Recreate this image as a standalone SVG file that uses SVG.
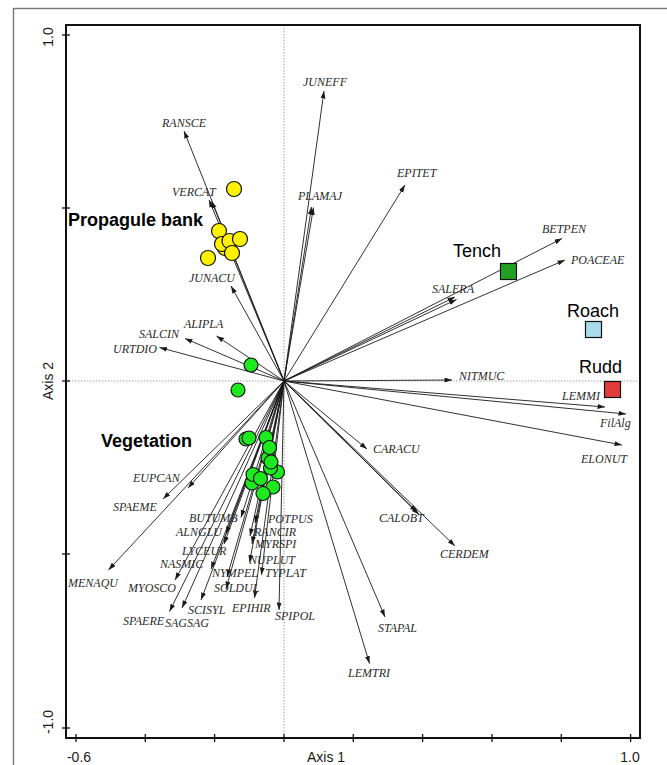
<svg xmlns="http://www.w3.org/2000/svg" width="667" height="765" viewBox="0 0 667 765">
<defs>
<marker id="ah" markerUnits="userSpaceOnUse" markerWidth="8" markerHeight="6" refX="7.5" refY="2.5" orient="auto">
<path d="M0,0 L7.5,2.5 L0,5 z" fill="#1a1a1a"/>
</marker>
<style>
.ar{stroke:#1a1a1a;stroke-width:0.9;fill:none;marker-end:url(#ah)}
.sp{font-family:"Liberation Serif","Times New Roman",serif;font-style:italic;font-size:12px;fill:#2a2a2a}
.ax{font-family:"Liberation Sans",Arial,sans-serif;font-size:14px;fill:#1a1a1a}
.grp{font-family:"Liberation Sans",Arial,sans-serif;font-weight:bold;font-size:18px;fill:#000}
.fish{font-family:"Liberation Sans",Arial,sans-serif;font-size:18px;fill:#000}
.yc{fill:#fff200;stroke:#111;stroke-width:1.2}
.gc{fill:#1ee81e;stroke:#111;stroke-width:1.2}
.tk{stroke:#111;stroke-width:1.3}
.dot{stroke:#888;stroke-width:0.8;stroke-dasharray:1.5,1.5}
</style>
</defs>
<rect width="667" height="765" fill="#fff"/>
<rect x="13.5" y="8.5" width="700" height="800" fill="none" stroke="#777" stroke-width="1.4"/>
<g id="axes">
<line class="dot" x1="284" y1="25" x2="284" y2="738"/>
<line class="dot" x1="66" y1="381" x2="640" y2="381"/>
<rect x="66" y="25" width="574" height="713" fill="none" stroke="#111" stroke-width="2"/>
<g class="tk">
<line x1="62" y1="35" x2="70" y2="35"/><line x1="62" y1="208" x2="70" y2="208"/><line x1="62" y1="381" x2="70" y2="381"/><line x1="62" y1="554" x2="70" y2="554"/><line x1="62" y1="728" x2="70" y2="728"/>
<line x1="76" y1="734" x2="76" y2="742"/><line x1="145.3" y1="734" x2="145.3" y2="742"/><line x1="214.6" y1="734" x2="214.6" y2="742"/><line x1="284" y1="734" x2="284" y2="742"/><line x1="353.3" y1="734" x2="353.3" y2="742"/><line x1="422.6" y1="734" x2="422.6" y2="742"/><line x1="492" y1="734" x2="492" y2="742"/><line x1="561.3" y1="734" x2="561.3" y2="742"/><line x1="630.6" y1="734" x2="630.6" y2="742"/>
</g>
<text class="ax" x="79" y="762" text-anchor="middle">-0.6</text>
<text class="ax" x="326" y="762" text-anchor="middle">Axis 1</text>
<text class="ax" x="630" y="762" text-anchor="middle">1.0</text>
<text class="ax" transform="translate(53,37) rotate(-90)" text-anchor="middle">1.0</text>
<text class="ax" transform="translate(53,381) rotate(-90)" text-anchor="middle">Axis 2</text>
<text class="ax" transform="translate(53,722) rotate(-90)" text-anchor="middle">-1.0</text>
</g>
<g id="connectors">
<line class="ar" x1="284" y1="381" x2="324" y2="91"/>
<line class="ar" x1="284" y1="381" x2="184" y2="131"/>
<line class="ar" x1="284" y1="381" x2="209" y2="200"/>
<line class="ar" x1="284" y1="381" x2="211.5" y2="201"/>
<line class="ar" x1="284" y1="381" x2="311.5" y2="207"/>
<line class="ar" x1="284" y1="381" x2="313.5" y2="207.5"/>
<line class="ar" x1="284" y1="381" x2="405" y2="185"/>
<line class="ar" x1="284" y1="381" x2="562" y2="238.5"/>
<line class="ar" x1="284" y1="381" x2="565" y2="260"/>
<line class="ar" x1="284" y1="381" x2="455" y2="297"/>
<line class="ar" x1="284" y1="381" x2="456.5" y2="299.5"/>
<line class="ar" x1="284" y1="381" x2="452" y2="380"/>
<line class="ar" x1="284" y1="381" x2="605" y2="407"/>
<line class="ar" x1="284" y1="381" x2="626" y2="414"/>
<line class="ar" x1="284" y1="381" x2="622" y2="445"/>
<line class="ar" x1="284" y1="381" x2="367" y2="449"/>
<line class="ar" x1="284" y1="381" x2="417" y2="512"/>
<line class="ar" x1="284" y1="381" x2="419" y2="514.5"/>
<line class="ar" x1="284" y1="381" x2="455" y2="546"/>
<line class="ar" x1="284" y1="381" x2="385" y2="617"/>
<line class="ar" x1="284" y1="381" x2="369.5" y2="663.5"/>
<line class="ar" x1="284" y1="381" x2="231" y2="286"/>
<line class="ar" x1="284" y1="381" x2="216.5" y2="336"/>
<line class="ar" x1="284" y1="381" x2="185" y2="338.5"/>
<line class="ar" x1="284" y1="381" x2="159.5" y2="347.5"/>
<line class="ar" x1="284" y1="381" x2="188" y2="488"/>
<line class="ar" x1="284" y1="381" x2="163" y2="499"/>
<line class="ar" x1="284" y1="381" x2="108.5" y2="570"/>
<line class="ar" x1="284" y1="381" x2="241" y2="517.5"/>
<line class="ar" x1="284" y1="381" x2="226" y2="534"/>
<line class="ar" x1="284" y1="381" x2="224" y2="544"/>
<line class="ar" x1="284" y1="381" x2="211" y2="569"/>
<line class="ar" x1="284" y1="381" x2="175" y2="580"/>
<line class="ar" x1="284" y1="381" x2="169.5" y2="611.5"/>
<line class="ar" x1="284" y1="381" x2="182" y2="608"/>
<line class="ar" x1="284" y1="381" x2="201" y2="600"/>
<line class="ar" x1="284" y1="381" x2="227" y2="577"/>
<line class="ar" x1="284" y1="381" x2="226" y2="589"/>
<line class="ar" x1="284" y1="381" x2="254.5" y2="598"/>
<line class="ar" x1="284" y1="381" x2="279" y2="610"/>
<line class="ar" x1="284" y1="381" x2="255" y2="523"/>
<line class="ar" x1="284" y1="381" x2="250" y2="536"/>
<line class="ar" x1="284" y1="381" x2="252" y2="544"/>
<line class="ar" x1="284" y1="381" x2="249.5" y2="562.5"/>
<line class="ar" x1="284" y1="381" x2="261.5" y2="575"/>
</g>
<g id="species-labels">
<text class="sp" x="303" y="86">JUNEFF</text>
<text class="sp" x="162" y="127">RANSCE</text>
<text class="sp" x="172" y="196">VERCAT</text>
<text class="sp" x="298" y="200">PLAMAJ</text>
<text class="sp" x="397" y="177">EPITET</text>
<text class="sp" x="542" y="233">BETPEN</text>
<text class="sp" x="571" y="264">POACEAE</text>
<text class="sp" x="432" y="293">SALERA</text>
<text class="sp" x="459" y="380">NITMUC</text>
<text class="sp" x="562" y="400">LEMMI</text>
<text class="sp" x="600" y="427">FilAlg</text>
<text class="sp" x="581" y="463">ELONUT</text>
<text class="sp" x="373" y="453">CARACU</text>
<text class="sp" x="379" y="522">CALOBT</text>
<text class="sp" x="440" y="558">CERDEM</text>
<text class="sp" x="378" y="632">STAPAL</text>
<text class="sp" x="348" y="677">LEMTRI</text>
<text class="sp" x="189" y="282">JUNACU</text>
<text class="sp" x="184" y="328">ALIPLA</text>
<text class="sp" x="139" y="338">SALCIN</text>
<text class="sp" x="113" y="353">URTDIO</text>
<text class="sp" x="133" y="482">EUPCAN</text>
<text class="sp" x="113" y="511">SPAEME</text>
<text class="sp" x="68" y="587">MENAQU</text>
<text class="sp" x="189" y="522">BUTUMB</text>
<text class="sp" x="176" y="536">ALNGLU</text>
<text class="sp" x="182" y="555">LYCEUR</text>
<text class="sp" x="160" y="568">NASMIC</text>
<text class="sp" x="128" y="592">MYOSCO</text>
<text class="sp" x="123" y="625">SPAERE</text>
<text class="sp" x="165" y="627">SAGSAG</text>
<text class="sp" x="188" y="614">SCISYL</text>
<text class="sp" x="212" y="577">NYMPEL</text>
<text class="sp" x="214" y="592">SOLDUL</text>
<text class="sp" x="232" y="612">EPIHIR</text>
<text class="sp" x="275" y="620">SPIPOL</text>
<text class="sp" x="268" y="523">POTPUS</text>
<text class="sp" x="254" y="535.5">RANCIR</text>
<text class="sp" x="255" y="547.5">MYRSPI</text>
<text class="sp" x="249" y="564">NUPLUT</text>
<text class="sp" x="265" y="577">TYPLAT</text>
</g>
<g id="propagule-bank">
<circle class="yc" cx="234" cy="189" r="7.5"/>
<circle class="yc" cx="208" cy="258" r="7.5"/>
<circle class="yc" cx="219" cy="231" r="7.5"/>
<circle class="yc" cx="225" cy="248" r="7.5"/>
<circle class="yc" cx="222" cy="244" r="7.5"/>
<circle class="yc" cx="229.5" cy="241" r="7.5"/>
<circle class="yc" cx="232" cy="253" r="7.5"/>
<circle class="yc" cx="240" cy="239" r="7.5"/>
<text class="grp" x="68" y="226">Propagule bank</text>
</g>
<g id="vegetation">
<circle class="gc" cx="251" cy="365" r="7"/>
<circle class="gc" cx="238" cy="390" r="7"/>
<circle class="gc" cx="246" cy="439" r="7"/>
<circle class="gc" cx="249" cy="438" r="7"/>
<circle class="gc" cx="266" cy="437.5" r="7"/>
<circle class="gc" cx="268" cy="458" r="7"/>
<circle class="gc" cx="269.5" cy="447.5" r="7"/>
<circle class="gc" cx="277.5" cy="472" r="7"/>
<circle class="gc" cx="270.5" cy="468" r="7"/>
<circle class="gc" cx="271" cy="462" r="7"/>
<circle class="gc" cx="252" cy="483" r="7"/>
<circle class="gc" cx="253" cy="474.5" r="7"/>
<circle class="gc" cx="273" cy="487" r="7"/>
<circle class="gc" cx="260.5" cy="478.5" r="7"/>
<circle class="gc" cx="263" cy="493.5" r="7"/>
<text class="grp" x="101" y="447">Vegetation</text>
</g>
<g id="tench">
<rect x="500.5" y="263.5" width="16" height="16" fill="#22a022" stroke="#111" stroke-width="1.2"/>
<text class="fish" x="453" y="257">Tench</text>
</g>
<g id="roach">
<rect x="585.5" y="321.5" width="16" height="16" fill="#a8dcec" stroke="#111" stroke-width="1.2"/>
<text class="fish" x="567" y="317">Roach</text>
</g>
<g id="rudd">
<rect x="604.5" y="381.5" width="16" height="16" fill="#e03c3c" stroke="#111" stroke-width="1.2"/>
<text class="fish" x="579" y="373">Rudd</text>
</g>
</svg>
